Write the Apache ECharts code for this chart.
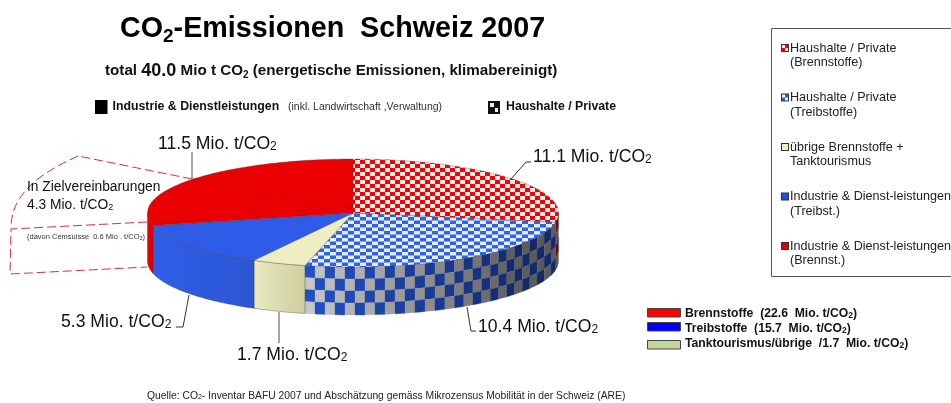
<!DOCTYPE html>
<html>
<head>
<meta charset="utf-8">
<style>
  html, body { margin: 0; padding: 0; background: #fff; }
  #chart { width: 951px; height: 403px; }
</style>
<script src="https://cdn.jsdelivr.net/npm/echarts@6/dist/echarts.min.js"></script>
</head>
<body>
<div id="chart"></div>
<script>
// Werte (Mio. t CO2)
const sliceNames = [
  'Haushalte / Private\n(Brennstoffe)',
  'Haushalte / Private\n(Treibstoffe)',
  'übrige Brennstoffe +\nTanktourismus',
  'Industrie & Dienst-leistungen\n(Treibst.)',
  'Industrie & Dienst-leistungen\n(Brennst.)'
];
const sliceValues = [11.1, 10.4, 1.7, 5.3, 11.5];
const sliceLabels = ['11.1', '10.4', '1.7', '5.3', '11.5'];
const fuelNames = ['Brennstoffe  (22.6  Mio. t/CO{s|2})', 'Treibstoffe  (15.7  Mio. t/CO{s|2})', 'Tanktourismus/übrige  /1.7  Mio. t/CO{s|2})'];
const fuelColors = ['#ff0000', '#0000ff', '#c3d69b'];

// Geometrie der Torte
const cx = 353, cy = 213, rx = 205.5, ry = 54, depth = 48;
const total = sliceValues.reduce((a, b) => a + b, 0);
const pt = (deg, h) => {
  const r = deg * Math.PI / 180;
  return [cx + rx * Math.sin(r), cy - ry * Math.cos(r) + h];
};
const arc = (a0, a1, h) => {
  const pts = [];
  const n = Math.max(2, Math.ceil(Math.abs(a1 - a0)));
  for (let i = 0; i <= n; i++) pts.push(pt(a0 + (a1 - a0) * i / n, h));
  return pts;
};

function checker(w, h, c1, c2) {
  const cv = document.createElement('canvas');
  cv.width = w * 2; cv.height = h * 2;
  const g = cv.getContext('2d');
  g.fillStyle = c2; g.fillRect(0, 0, w * 2, h * 2);
  g.fillStyle = c1; g.fillRect(0, 0, w, h); g.fillRect(w, h, w, h);
  return { image: cv, repeat: 'repeat' };
}

function swatch(fn) {
  const cv = document.createElement('canvas');
  cv.width = 8; cv.height = 29;
  const g = cv.getContext('2d');
  fn(g);
  g.strokeStyle = '#333'; g.lineWidth = 1; g.strokeRect(0.5, 3.5, 7, 7);
  return 'image://' + cv.toDataURL();
}

const mix = (a, b, t) => {
  const c = a.map((v, i) => Math.round(v + (b[i] - v) * t));
  return 'rgb(' + c.join(',') + ')';
};

const tops = [
  checker(5, 4, '#f80000', '#ececec'),
  checker(6, 3.5, '#2b62ee', '#e8ecf6'),
  '#eeeec0',
  '#2e5ce8',
  '#ea0000'
];
const walls = [
  { check: [[150, 20, 30], [110, 10, 20], [120, 120, 120], [90, 90, 90]] },
  { check: [[32, 80, 200], [20, 41, 107], [200, 200, 200], [92, 92, 92]] },
  { grad: ['#e9e9c4', '#cdcd9e'] },
  { grad: ['#2f5ee8', '#2b55d2'] },
  { grad: ['#f00000', '#d80000'] }
];
const icons = [
  swatch(g => { g.fillStyle = '#f00'; g.fillRect(0, 3, 8, 8); g.fillStyle = '#eee'; g.fillRect(1, 4, 3, 3); g.fillRect(4, 7, 3, 3); }),
  swatch(g => { g.fillStyle = '#2b62ee'; g.fillRect(0, 3, 8, 8); g.fillStyle = '#eee'; g.fillRect(1, 4, 3, 3); g.fillRect(4, 7, 3, 3); }),
  swatch(g => { g.fillStyle = '#f2f2b8'; g.fillRect(0, 3, 8, 8); }),
  swatch(g => { g.fillStyle = '#2050e0'; g.fillRect(0, 3, 8, 8); }),
  swatch(g => { g.fillStyle = '#e00000'; g.fillRect(0, 3, 8, 8); })
];

// Spaltengrenzen des Karomusters: in x etwa gleich breit, rechts schmaler
function columnAngles(s, e) {
  const out = [e];
  let x = pt(e, 0)[0];
  const xEnd = pt(s, 0)[0];
  while (x < xEnd - 1) {
    x += x < 430 ? 10 : 10 - 3.5 * (x - 430) / 128;
    const sin = Math.min(1, (Math.min(x, xEnd) - cx) / rx);
    out.push(Math.max(s, 180 - Math.asin(sin) * 180 / Math.PI));
  }
  out[out.length - 1] = s;
  return out;
}

// Mantel eines Segments, nur der sichtbare Teil (90..270 Grad)
function wallShapes(a0, a1, wall) {
  const s = Math.max(a0, 90), e = Math.min(a1, 270);
  if (e <= s) return [];
  if (wall.grad) {
    const pL = pt(e, 0), pR = pt(s, 0);
    return [{
      type: 'polygon',
      shape: { points: arc(s, e, 0).concat(arc(e, s, depth)) },
      style: {
        fill: new echarts.graphic.LinearGradient(pL[0], 0, pR[0], 0,
          [{ offset: 0, color: wall.grad[0] }, { offset: 1, color: wall.grad[1] }], true),
        stroke: 'rgba(50,50,50,0.6)', lineWidth: 0.6
      }
    }];
  }
  const out = [];
  const rows = 4, rowH = depth / rows;
  const edges = columnAngles(s, e);
  const [b0, b1, g0, g1] = wall.check;
  for (let c = 0; c < edges.length - 1; c++) {
    const hi = edges[c], lo = edges[c + 1];
    const t = Math.min(1, (193.5 - (hi + lo) / 2) / 65);
    for (let r = 0; r < rows; r++) {
      const fill = (c + r) % 2 === 0 ? mix(b0, b1, t) : mix(g0, g1, t);
      out.push({
        type: 'polygon',
        shape: { points: arc(hi, lo, r * rowH).concat(arc(lo, hi, (r + 1) * rowH)) },
        style: { fill: fill, stroke: fill, lineWidth: 0.3 }
      });
    }
  }
  return out;
}

let acc = 0;
const series = sliceValues.map((v, i) => {
  const a0 = acc / total * 360, a1 = (acc + v) / total * 360;
  acc += v;
  return {
    name: sliceNames[i],
    type: 'custom',
    coordinateSystem: 'none',
    silent: true,
    animation: false,
    data: [[v]],
    renderItem: () => ({
      type: 'group',
      children: wallShapes(a0, a1, walls[i]).concat([{
        type: 'polygon',
        shape: { points: [[cx, cy]].concat(arc(a0, a1, 0)) },
        style: { fill: tops[i], stroke: 'rgba(60,60,60,0.55)', lineWidth: 0.6 }
      }])
    })
  };
});

const co2 = { s: { fontSize: 12, verticalAlign: 'bottom', padding: [4, 0, 0, 0], fontFamily: 'Liberation Sans', fill: '#111' } };
const txt = (x, y, text, size, extra) => ({
  type: 'text', x: x, y: y, z: 20,
  style: Object.assign({
    text: text, fontSize: size, fontFamily: 'Liberation Sans', fill: '#111',
    verticalAlign: 'middle', rich: co2
  }, extra || {})
});
const line = (pts, color, w, dash) => ({
  type: 'polyline', z: 15, shape: { points: pts },
  style: { stroke: color, lineWidth: w, fill: null, lineDash: dash || null }
});
const bar = (x, y, w, h, fill, stroke) => ({
  type: 'rect', z: 15, shape: { x: x, y: y, width: w, height: h },
  style: { fill: fill, stroke: stroke || null, lineWidth: 1 }
});
const dash = [9, 4];
const red = '#d5303e';

const graphics = [
  // Kasten der Legende, rechts angeschnitten
  { type: 'rect', z: 1, shape: { x: 771.5, y: 28.5, width: 220, height: 248 }, style: { fill: 'none', stroke: '#555', lineWidth: 1 } },

  bar(95, 100, 12.5, 14, '#000'),
  txt(112.5, 107, 'Industrie & Dienstleistungen', 12.3, { fontWeight: 'bold' }),
  txt(288, 107, '(inkl. Landwirtschaft ,Verwaltung)', 10.5, { fill: '#333' }),
  bar(488, 101, 12, 13, '#111'),
  bar(490, 103, 4, 4, '#eee'), bar(495, 108, 3, 4, '#eee'),
  txt(506, 107, 'Haushalte / Private', 12.3, { fontWeight: 'bold' }),

  // Zielvereinbarungen
  line([[192, 179], [78, 156]], red, 1, dash),
  { type: 'bezierCurve', z: 15, shape: { x1: 78, y1: 156, cpx1: 38, cpy1: 174, cpx2: 11, cpy2: 195, x2: 11, y2: 228 }, style: { stroke: red, lineWidth: 1, fill: null, lineDash: dash } },
  line([[147, 222], [11, 229], [10, 274], [147, 267]], red, 1, dash),
  line([[192, 179], [353, 213]], '#b00010', 0.6, [6, 3]),
  line([[150, 224], [353, 206]], '#b00010', 0.6, [6, 3]),
  txt(27, 187, 'In Zielvereinbarungen', 13.8),
  txt(27, 205, '4.3 Mio. t/CO{s|2}', 13.8, { rich: { s: { fontSize: 9, verticalAlign: 'bottom', padding: [3, 0, 0, 0], fontFamily: 'Liberation Sans', fill: '#111' } } }),
  txt(27, 237, '(davon Cemsuisse  0.6 Mio . t/CO{s|2})', 7.5, { fill: '#333', rich: { s: { fontSize: 5.5, verticalAlign: 'bottom', fontFamily: 'Liberation Sans', fill: '#333' } } }),

  // Beschriftung der Segmente
  line([[192, 152], [192, 179]], '#808080', 1.4),
  line([[511, 179], [526, 162], [531, 162]], '#333', 1),
  line([[189, 295], [183, 327], [176, 327]], '#333', 1),
  line([[279, 312], [279, 343]], '#808080', 1.4),
  line([[467, 307], [471, 331], [476, 331]], '#333', 1),
  txt(158, 144, sliceLabels[4] + ' Mio. t/CO{s|2}', 17.6),
  txt(533, 157, sliceLabels[0] + ' Mio. t/CO{s|2}', 17.6),
  txt(61, 322, sliceLabels[3] + ' Mio. t/CO{s|2}', 17.6),
  txt(237, 355, sliceLabels[2] + ' Mio. t/CO{s|2}', 17.6),
  txt(478, 327, sliceLabels[1] + ' Mio. t/CO{s|2}', 17.6),

  txt(147, 396, 'Quelle: CO{s|2}- Inventar BAFU 2007 und Abschätzung gemäss Mikrozensus Mobilität in der Schweiz (ARE)', 10.3, { fill: '#222', rich: { s: { fontSize: 7, verticalAlign: 'bottom', fontFamily: 'Liberation Sans', fill: '#222' } } })
];
fuelNames.forEach((n, i) => {
  const y = [308, 322, 340][i];
  graphics.push(bar(647.5, y + 0.5, 33, 8.5, fuelColors[i], '#444'));
  graphics.push(txt(685, [314, 329, 344][i], n, 12.2, { fontWeight: 'bold', rich: { s: { fontSize: 8.5, fontWeight: 'bold', verticalAlign: 'bottom', fontFamily: 'Liberation Sans', fill: '#111' } } }));
});

const chart = echarts.init(document.getElementById('chart'), null, { renderer: 'canvas' });
chart.setOption({
  backgroundColor: '#fff',
  animation: false,
  title: [
    {
      left: 115, top: 8, itemGap: 0,
      text: 'CO{s|2}-Emissionen  Schweiz 2007',
      textStyle: {
        fontFamily: 'Liberation Sans', fontSize: 28.7, fontWeight: 'bold', color: '#000',
        rich: { s: { fontFamily: 'Liberation Sans', fontSize: 19, fontWeight: 'bold', color: '#000', verticalAlign: 'bottom', padding: [14, 0, 0, 0] } }
      }
    },
    {
      left: 100, top: 57,
      text: 'total {b|40.0} Mio t CO{s|2} (energetische Emissionen, klimabereinigt)',
      textStyle: {
        fontFamily: 'Liberation Sans', fontSize: 15.2, fontWeight: 'bold', color: '#111',
        rich: {
          b: { fontFamily: 'Liberation Sans', fontSize: 18, fontWeight: 'bold', color: '#111' },
          s: { fontFamily: 'Liberation Sans', fontSize: 10, fontWeight: 'bold', color: '#111', verticalAlign: 'bottom' }
        }
      }
    }
  ],
  legend: {
    orient: 'vertical', left: 781, top: 41, padding: 0,
    itemWidth: 8, itemHeight: 29, itemGap: 20.5,
    selectedMode: false,
    textStyle: { fontFamily: 'Liberation Sans', fontSize: 12.6, color: '#222', lineHeight: 14.5, padding: [0, 0, 0, -4] },
    data: sliceNames.map((n, i) => ({ name: n, icon: icons[i] }))
  },
  graphic: graphics,
  series: series
});
</script>
</body>
</html>
